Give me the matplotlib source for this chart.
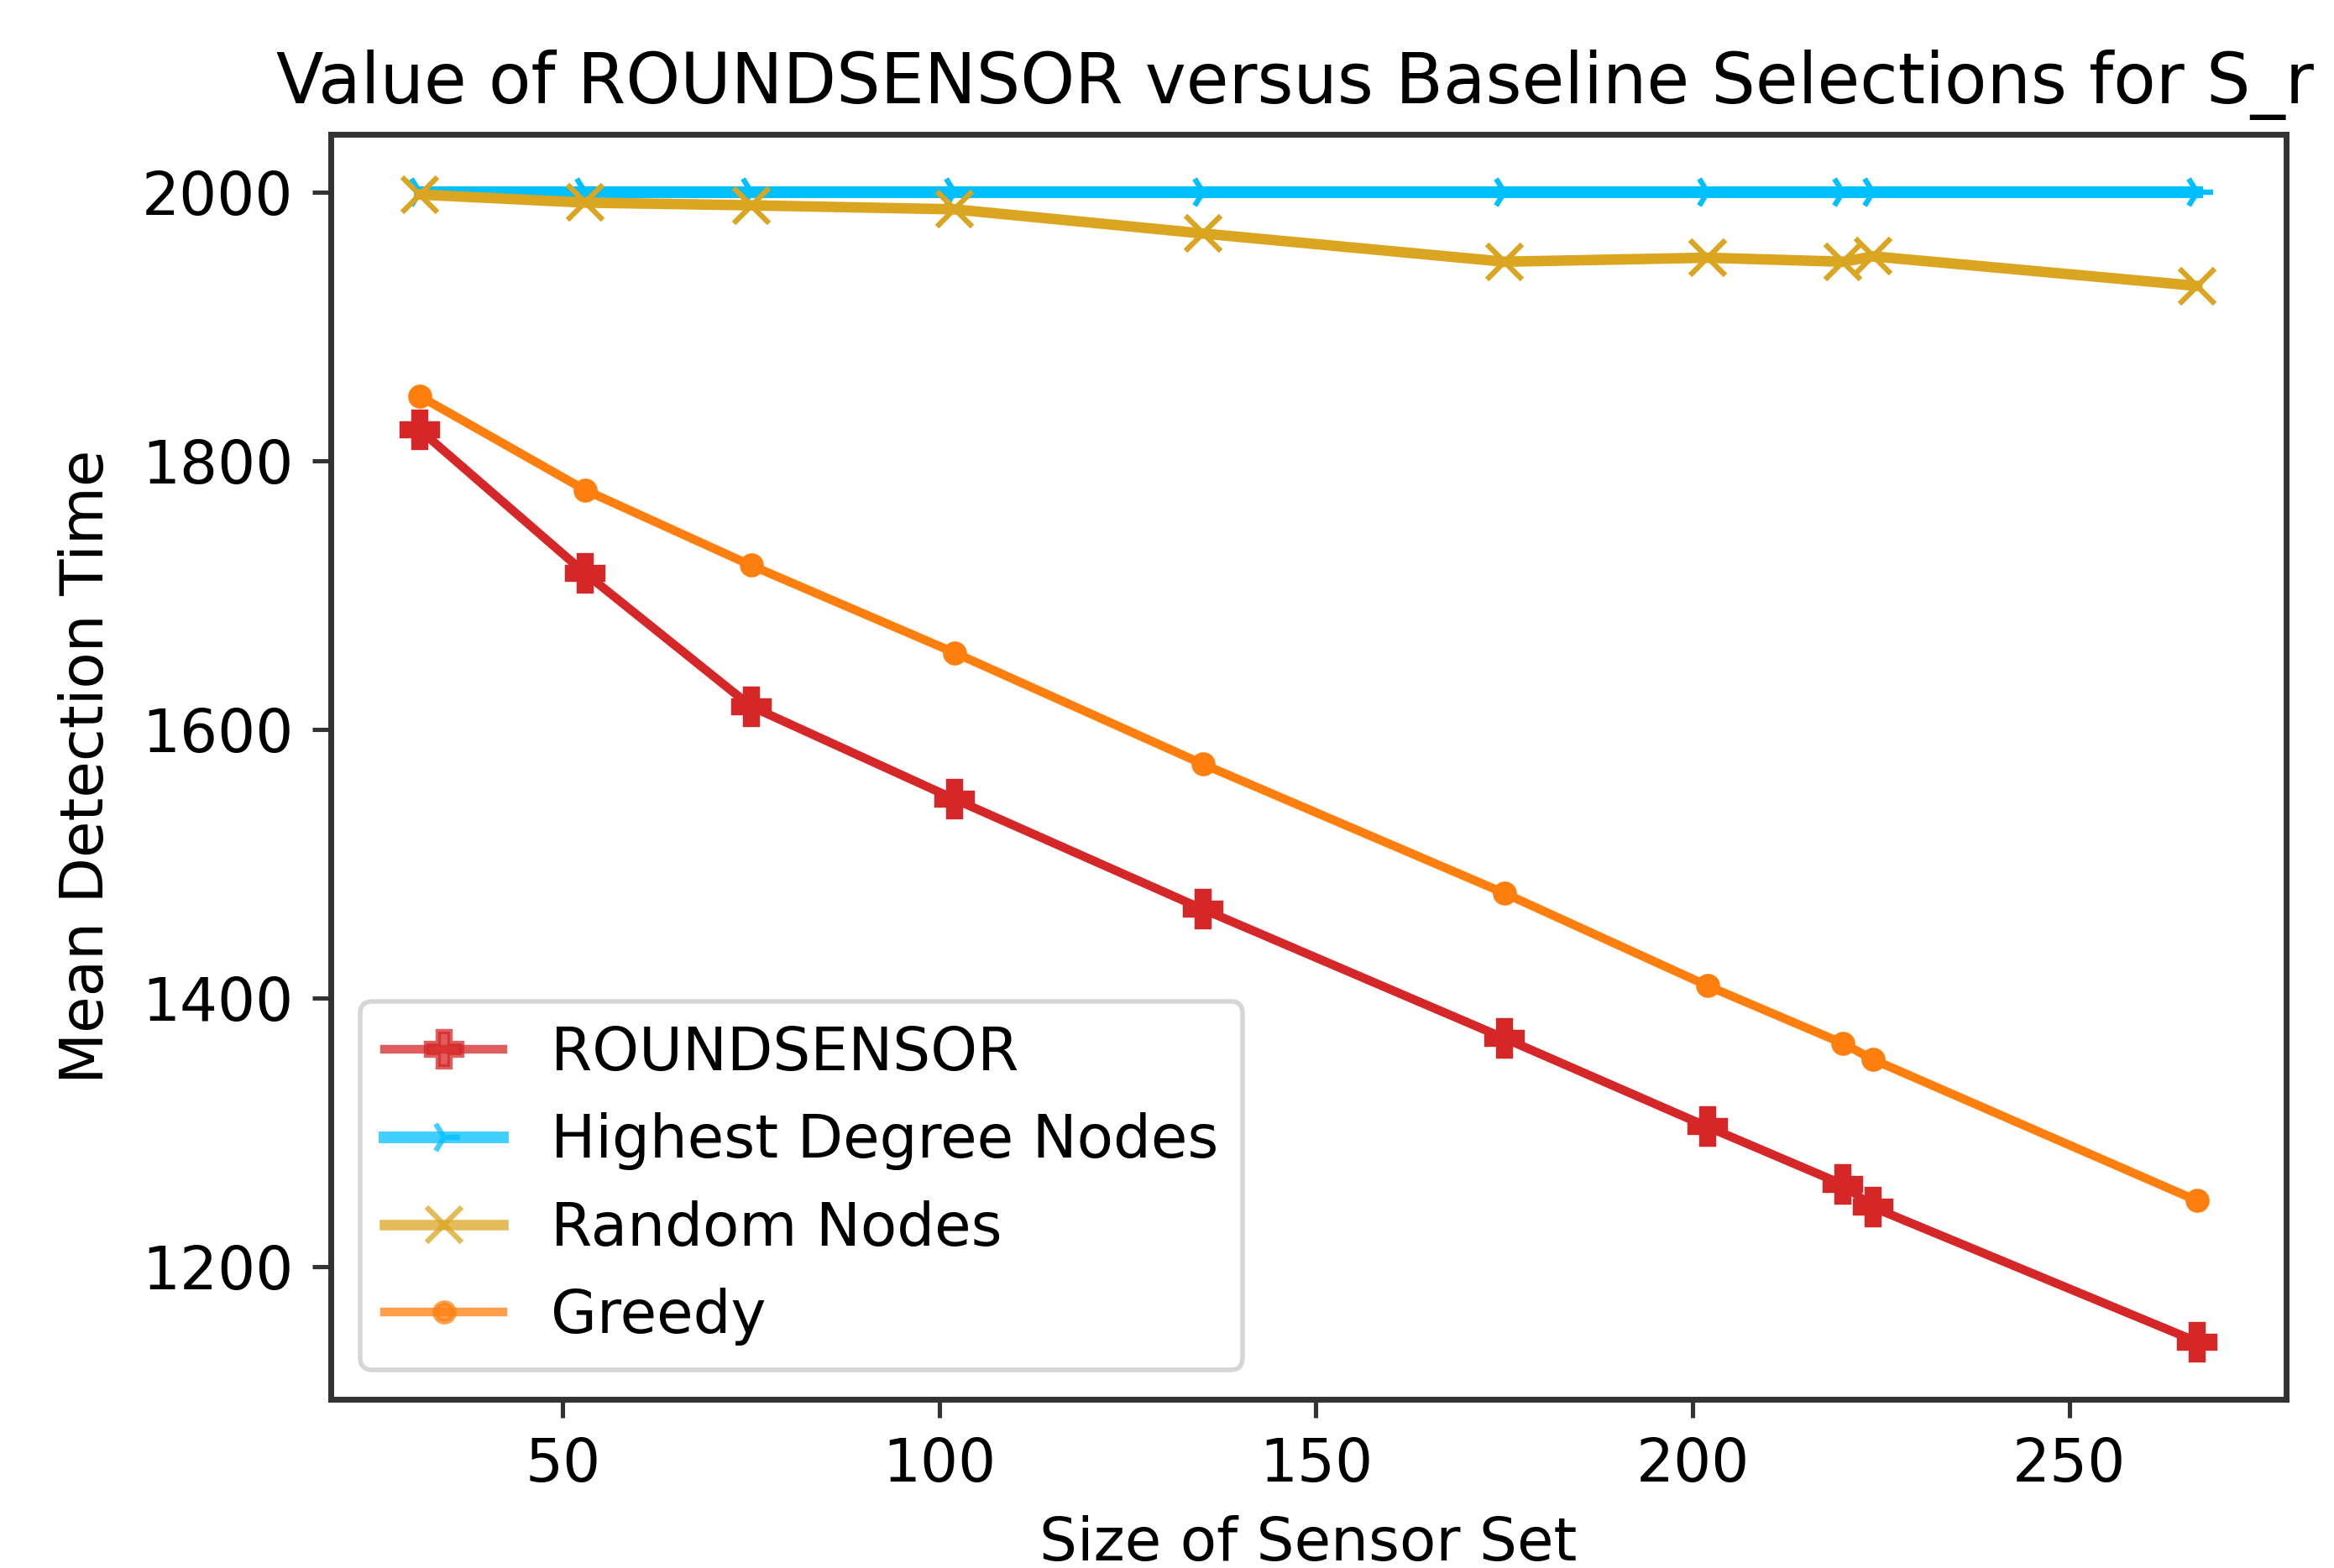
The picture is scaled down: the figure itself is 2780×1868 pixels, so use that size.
import matplotlib
matplotlib.use("Agg")
import matplotlib.pyplot as plt

# sensor set sizes
sizes = [31, 53, 75, 102, 135, 175, 202, 220, 224, 267]

roundsensor = [1823, 1716, 1617, 1548, 1466, 1370, 1304, 1261, 1244, 1144]
highest_degree = [2000, 2000, 2000, 2000, 2000, 2000, 2000, 2000, 2000, 2000]
random_nodes = [1998, 1992, 1990, 1987, 1969, 1948, 1951, 1948, 1952, 1930]
greedy = [1848, 1778, 1722, 1657, 1574, 1478, 1409, 1366, 1354, 1249]

labels = ["ROUNDSENSOR", "Highest Degree Nodes", "Random Nodes", "Greedy"]

fig = plt.figure(figsize=(27.8, 18.68), dpi=100)
ax = fig.add_axes([0.1417, 0.1076, 0.8378, 0.8067])

ax.plot(sizes, roundsensor, color="#d62728", marker="P", ms=30, mew=4.6, lw=7.5, label=labels[0])
ax.plot(sizes, highest_degree, color="#00bfff", marker="4", ms=28, mew=4.6, lw=10, label=labels[1])
ax.plot(sizes, random_nodes, color="#daa520", marker="x", ms=30, mew=4.6, lw=9, label=labels[2])
ax.plot(sizes, greedy, color="#ff7f0e", marker=".", ms=32, mew=4.6, lw=7.5, label=labels[3])

ax.set_yticks([1200, 1400, 1600, 1800, 2000])
ax.set_xticks([50, 100, 150, 200, 250])
ax.tick_params(labelsize=51, length=16, width=3.7, pad=16, color="#333333")
for s in ax.spines.values():
    s.set_linewidth(5)
    s.set_color("#333333")

ax.set_xlabel("Size of Sensor Set", fontsize=51, labelpad=18)
ax.set_ylabel("Mean Detection Time", fontsize=51, labelpad=22)
ax.set_title("Value of ROUNDSENSOR versus Baseline Selections for S_r",
             fontsize=59.5, x=-0.028, ha="left", pad=27)

leg = ax.legend(loc="lower left", fontsize=51, framealpha=0.8)
leg.get_frame().set_linewidth(4)
for h in leg.legend_handles:
    h.set_alpha(0.75)

fig.savefig("out.png", dpi=100)
